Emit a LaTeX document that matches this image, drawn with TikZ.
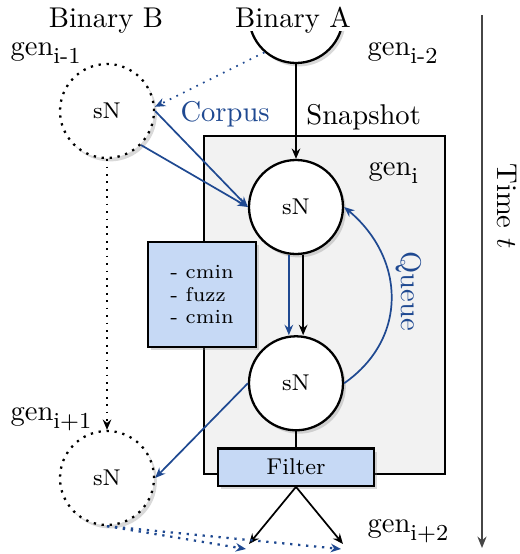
\documentclass[tikz,border=0pt]{standalone}
\usepackage{amsmath}
\usetikzlibrary{positioning,shadows,arrows.meta}

\definecolor{qblue}{RGB}{31,73,145}
\definecolor{taskfill}{RGB}{198,217,245}
\definecolor{genfill}{RGB}{242,242,242}
\definecolor{timegray}{RGB}{70,70,70}

\newcommand\gen[1]{gen\raisebox{-2.8pt}{\footnotesize #1}}

\tikzset{
  seed/.style={circle, draw, thick, fill=white, minimum size=32.9pt, inner sep=0pt,
    font=\footnotesize, drop shadow={opacity=0.3, shadow xshift=1pt, shadow yshift=-1.2pt}},
  ghost/.style={seed, dotted},
  task/.style={draw, thick, fill=taskfill,
    drop shadow={opacity=0.3, shadow xshift=1pt, shadow yshift=-1.2pt}},
  tag/.style={anchor=base west, inner sep=0pt},
  flow/.style={semithick, -{Stealth[length=3.6pt, width=3pt]}},
  feed/.style={flow, qblue},
}

\begin{document}
\begin{tikzpicture}[x=0.35pt, y=-0.35pt]
  \useasboundingbox (0,0) rectangle (520,554);
  % generation i
  \draw[thick, fill=genfill] (204,136) rectangle (445,474);

  \node[seed] (binA) at (296,16) {};
  \node[anchor=base, fill=white, inner xsep=3pt, inner ysep=0pt, text height=9.5pt,
    text depth=1.3pt] (binAlbl) at (293,27) {Binary A};
  \node[anchor=base] (binBlbl) at (106,27) {Binary B};
  \node[ghost] (prevB) at (107,111) {sN};
  \node[seed] (cur) at (296,207) {sN};
  \node[seed, below=28pt of cur] (next) {sN};
  \node[task, below=5.6pt of next, minimum width=54.6pt, minimum height=13pt,
    font=\footnotesize] (filter) {Filter};
  \node[task, align=left, font=\scriptsize, minimum width=37.8pt,
    minimum height=36.75pt] (tasks) at (202,294.5) {- cmin\\- fuzz\\- cmin};
  \node[ghost] (nextB) at (107,478) {sN};

  \node[tag] (genA) at (10,55) {\gen{i-1}};
  \node[tag] (genB) at (367,55) {\gen{i-2}};
  \node[tag] (genC) at (368,175) {\gen{i}};
  \node[tag] (genD) at (10,420) {\gen{i+1}};
  \node[tag] (genE) at (367,532) {\gen{i+2}};

  \draw[flow] (binA) -- node[pos=0.56, right] (snap) {Snapshot} (cur);
  \draw[feed, dotted] (binA.229) -- (prevB.5);
  \node[tag, text=qblue] (corpus) at (180,121) {Corpus};
  \draw[feed] (prevB.east) -- (cur.west);
  \draw[feed] (prevB.-45) -- (cur.west);

  \draw[flow] ([xshift=2.5pt]cur.south) -- ([xshift=2.5pt]next.north);
  \draw[feed] ([xshift=-2.5pt]cur.south) -- ([xshift=-2.5pt]next.north);
  \draw[feed] (next.east) to[out=35, in=-40, looseness=1.15] (cur.east);
  \node[text=qblue, rotate=-90] (queue) at (409,291) {Queue};
  \draw[feed] (next.west) -- (nextB.east);
  \draw[flow, dotted] (prevB) -- (nextB);
  \draw[semithick] (next) -- (filter);

  \coordinate (outA) at (249,544);
  \coordinate (outB) at (343,544);
  \draw[flow] (filter.south) -- (outA);
  \draw[flow] (filter.south) -- (outB);
  \coordinate (spillA) at (246,549);
  \coordinate (spillB) at (341,549);
  \draw[feed, thick, dotted] (nextB.south) -- (spillA);
  \draw[feed, thick, dotted] (nextB.south) -- (spillB);

  % time axis
  \coordinate (t0) at (482,15);
  \coordinate (t1) at (482,548);
  \draw[semithick, timegray, -{Stealth[length=4pt, width=3.2pt]}] (t0) -- (t1);
  \node[rotate=-90] (time) at (507,206) {Time $t$};
\end{tikzpicture}
\end{document}
